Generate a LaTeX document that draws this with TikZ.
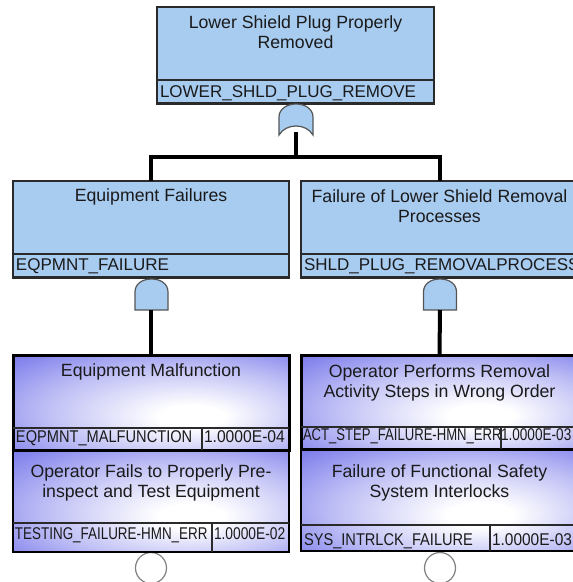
\documentclass[tikz,border=0pt]{standalone}
\usepackage{fontspec}
\setmainfont{Liberation Sans}
\usepackage{graphicx}
\definecolor{boxblue}{HTML}{A8CBF0}
\definecolor{purp}{HTML}{7272EA}
\definecolor{txt}{HTML}{1A1A1A}
\definecolor{edge}{HTML}{2A2A2A}
\pgfdeclareradialshading{evshade}{\pgfpoint{8bp}{-8bp}}{color(0bp)=(white); color(6bp)=(white); color(24bp)=(white!55!purp); color(42bp)=(purp); color(72bp)=(purp!80!black)}
\tikzset{
  andgate/.pic={\draw[gate] (-16.5,0) -- (-16.5,-18) .. controls (-16.5,-26) and (-9.5,-31) .. (0,-31) .. controls (9.5,-31) and (16.5,-26) .. (16.5,-18) -- (16.5,0) -- cycle;},
  orgate/.pic={\draw[gate] (-17,0) -- (-17,-18) .. controls (-17,-26) and (-9,-31) .. (0,-31) .. controls (9,-31) and (17,-26) .. (17,-18) -- (17,0) .. controls (10,-12) and (-10,-12) .. (-17,0) -- cycle;}
}
\begin{document}
\begin{tikzpicture}[x=1pt,y=-1pt,
  every node/.style={inner sep=0pt, outer sep=0pt},
  gatebox/.style={draw=edge, line width=1.3pt, fill=boxblue, rectangle},
  evbox/.style={draw=black, line width=1.3pt, rectangle, shading=evshade},
  selbox/.style={line width=3pt},
  divline/.style={draw=edge, line width=1.2pt},
  ttl/.style={font=\fontsize{17.7}{20.5}\selectfont, align=center, text=txt, anchor=north},
  code/.style={font=\fontsize{17}{20}\selectfont, text=txt, anchor=base west},
  conn/.style={line width=4pt, draw=black},
  gate/.style={draw=edge!80, line width=1.2pt, fill=boxblue},
  basic/.style={circle, draw=gray, line width=1.2pt, fill=white, minimum size=31pt}
]
\useasboundingbox (0,0) rectangle (573,582);
\clip (0,0) rectangle (573,582);

% ---- top gate box
\node[gatebox, minimum width=277pt, minimum height=97pt] (top) at (295.5,55.5) {};
\draw[divline] (157,80) -- (434,80);
\draw[edge, line width=2.4pt] (157,103.5) -- (434,103.5);
\node[ttl] (topT) at (295.5,15.6) {Lower Shield Plug Properly\\Removed};
\node[code] (topC) at (160,97) {LOWER\_SHLD\_PLUG\_REMOVE};
\pic at (296,135) {orgate};
\coordinate (orOut) at (296,132);

% ---- middle gate boxes
\node[gatebox, minimum width=276pt, minimum height=97pt] (eqf) at (151,229.5) {};
\draw[divline] (13,254) -- (289,254);
\draw[edge, line width=2.4pt] (13,277.5) -- (289,277.5);
\node[ttl] (eqfT) at (151,188.6) {Equipment Failures};
\node[code] (eqfC) at (16,270) {EQPMNT\_FAILURE};

\node[gatebox, minimum width=277pt, minimum height=97pt] (shld) at (439.5,229.5) {};
\draw[divline] (301,254) -- (578,254);
\draw[edge, line width=2.4pt] (301,277.5) -- (578,277.5);
\node[ttl] (shldT) at (439.5,189.6) {Failure of Lower Shield Removal\\Processes};
\node[code] (shldC) at (304,270) {SHLD\_PLUG\_REMOVALPROCESS};

\draw[conn] (orOut) -- ++(0,24.5) -| (eqf.north);
\draw[conn] (orOut) -- ++(0,24.5) -| (shld.north);

\pic at (151.5,310) {andgate};
\pic at (440,310) {andgate};
\coordinate (andL) at (151,310);
\coordinate (andR) at (440,310);

% ---- basic events, left
\node[basic] (c1) at (151,568) {};
\node[evbox, minimum width=276pt, minimum height=102pt] (tf) at (151,501) {};
\draw[divline] (13,523) -- (289,523);
\draw[divline] (212,523) -- (212,552);
\node[ttl] (tfT) at (151,464.6) {Operator Fails to Properly Pre-\\inspect and Test Equipment};
\node[code] (tfC) at (15,539) {\scalebox{0.79}[1]{TESTING\_FAILURE-HMN\_ERR}};
\node[code] (tfV) at (214,539) {\scalebox{0.81}[1]{1.0000E-02}};

\node[evbox, selbox, minimum width=276pt, minimum height=95pt] (em) at (151,402.5) {};
\draw[divline] (13,428) -- (289,428);
\draw[divline] (202,428) -- (202,450);
\node[ttl] (emT) at (151,363.6) {Equipment Malfunction};
\node[code] (emC) at (16,442) {\scalebox{0.86}[1]{EQPMNT\_MALFUNCTION}};
\node[code] (emV) at (204,442) {\scalebox{0.92}[1]{1.0000E-04}};

% ---- basic events, right
\node[basic] (c2) at (440,568) {};
\node[evbox, minimum width=277pt, minimum height=102pt] (sy) at (439.5,500) {};
\draw[divline] (301,525) -- (578,525);
\draw[divline] (490,525) -- (490,551);
\node[ttl] (syT) at (439.5,464.6) {Failure of Functional Safety\\System Interlocks};
\node[code] (syC) at (304,545) {\scalebox{0.86}[1]{SYS\_INTRLCK\_FAILURE}};
\node[code] (syV) at (492,545) {\scalebox{0.91}[1]{1.0000E-03}};

\node[evbox, selbox, minimum width=277pt, minimum height=94pt] (as) at (439.5,402) {};
\draw[divline] (301,427) -- (578,427);
\node[code] (asC) at (303,440) {\scalebox{0.77}[1]{ACT\_STEP\_FAILURE-HMN\_ERR}};
\node[code] (asV) at (501,440) {\scalebox{0.8}[1]{1.0000E-03}};
\draw[divline] (501,427) -- (501,449);
\node[ttl] (asT) at (439.5,364.6) {Operator Performs Removal\\Activity Steps in Wrong Order};

\draw[conn] (andL) -- (em.north);
\draw[conn] (andR) -- (as.north);
\end{tikzpicture}
\end{document}
